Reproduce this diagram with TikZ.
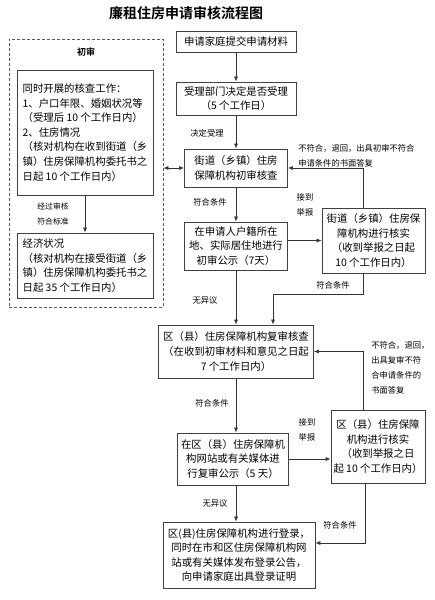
\documentclass[tikz,border=0pt]{standalone}
\usepackage{fontspec}
\setmainfont{Noto Sans CJK SC}[BoldFont={Noto Sans CJK SC Bold}]
\usepackage{tikz}
\usetikzlibrary{positioning, calc, arrows.meta}

\begin{document}
\begin{tikzpicture}[
    x=1pt, y=-1pt,
    line width=0.6pt,
    >={Latex[length=5pt,width=4pt]},
    box/.style={rectangle, draw=black!75, line width=0.8pt, align=center, inner sep=2pt, font=\fontsize{10.4}{14.6}\selectfont},
    listbox/.style={box, align=left, inner sep=5pt},
    group/.style={rectangle, draw=black!65, dash pattern=on 3pt off 2pt, line width=0.7pt},
    note/.style={font=\fontsize{8.3}{15}\selectfont, align=left, inner sep=1pt},
    flow/.style={draw=black!80, ->}
]
    \useasboundingbox (0,0) rectangle (435,600);

    % Title
    \node[font=\bfseries\fontsize{14}{16}\selectfont] (title) at (186,13) {廉租住房申请审核流程图};

    % Initial review group
    \node[group, minimum width=154, minimum height=268] (chushen) at (86,173) {};
    \node[font=\bfseries\fontsize{9}{11}\selectfont] (chushenlabel) at (86,52) {初审};
    \node[listbox, minimum width=136, minimum height=125] (hecha) at (85,132.5) {同时开展的核查工作：\\1、户口年限、婚姻状况等\\（受理后 10 个工作日内）\\2、住房情况\\（核对机构在收到街道（乡\\镇）住房保障机构委托书之\\日起 10 个工作日内）};
    \node[listbox, minimum width=136, minimum height=65] (jingji) at (85,265.5) {经济状况\\（核对机构在接受街道（乡\\镇）住房保障机构委托书之\\日起 35 个工作日内）};

    % Main steps
    \node[box, minimum width=120, minimum height=21] (shenqing) at (236,41.5) {申请家庭提交申请材料};
    \node[box, minimum width=120, minimum height=33] (shouli) at (236,98.5) {受理部门决定是否受理\\（5 个工作日）};
    \node[box, minimum width=103, minimum height=38] (jiedao) at (236,168) {街道（乡镇）住房\\保障机构初审核查};
    \node[box, minimum width=103, minimum height=48] (gongshi) at (236,246) {在申请人户籍所在\\地、实际居住地进行\\初审公示（7天）};
    \node[box, minimum width=103, minimum height=65] (jiedaohs) at (373.5,240.5) {街道（乡镇）住房保\\障机构进行核实\\（收到举报之日起\\10 个工作日内）};
    \node[box, minimum width=155, minimum height=53] (fushen) at (236,351.5) {区（县）住房保障机构复审核查\\（在收到初审材料和意见之日起\\7 个工作日内）};
    \node[box, minimum width=111, minimum height=52] (fsgongshi) at (233,459) {在区（县）住房保障机\\构网站或有关媒体进\\行复审公示（5 天）};
    \node[box, minimum width=94, minimum height=73] (quhs) at (378,446.5) {区（县）住房保障\\机构进行核实\\（收到举报之日\\起 10 个工作日内）};
    \node[box, minimum width=152, minimum height=66] (denglu) at (239,555) {区(县)住房保障机构进行登录，\\同时在市和区住房保障机构网\\站或有关媒体发布登录公告，\\向申请家庭出具登录证明};

    % Labels
    \node[note] (l1) at (207,133) {决定受理};
    \node[note] (l2) at (210,202) {符合条件};
    \node[note, align=center] (l3) at (305,204.5) {接到\\举报};
    \node[note, anchor=west] (l4) at (297,155.5) {不符合，退回，出具初审不符合\\申请条件的书面答复};
    \node[note] (l5) at (333,285) {符合条件};
    \node[note] (l6) at (205,300) {无异议};
    \node[note, anchor=west] (l7) at (370,368) {不符合，退回，\\出具复审不符\\合申请条件的\\书面答复};
    \node[note] (l8) at (212,403) {符合条件};
    \node[note, align=center] (l9) at (307,429.5) {接到\\举报};
    \node[note] (l10) at (215,503) {无异议};
    \node[note] (l11) at (340,525) {符合条件};
    \node[note, align=center, font=\fontsize{7.8}{15}\selectfont] (l12) at (53,214) {经过审核\\符合标准};

    % Connections
    \draw[flow] (shenqing) -- (shouli);
    \draw[flow] (shouli) -- (jiedao);
    \draw[flow] (jiedao) -- (gongshi);
    \draw[flow] (gongshi.east |- jiedaohs.west) -- (jiedaohs.west);
    \draw[flow] ([xshift=-10]jiedaohs.north) |- (jiedao.east);
    \draw[flow] (gongshi.south) -- (gongshi.south |- fushen.north);
    \draw[flow] ([xshift=-10]jiedaohs.south) -- ++(0,21) -| ([xshift=37]fushen.north);
    \draw[flow] (fushen.south) -- (fushen.south |- fsgongshi.north);
    \draw[flow] (fsgongshi.east) -- (fsgongshi.east -| quhs.west);
    \draw[flow] ([xshift=-15]quhs.north) |- (fushen.east);
    \draw[flow] (fushen.south |- fsgongshi.south) -- (fushen.south |- denglu.north);
    \draw[flow] ([xshift=-13]quhs.south) |- ([yshift=12]denglu.east);
    \draw[flow] (hecha) -- (jingji);
    \draw[flow, <->] (chushen.east |- jiedao.west) -- (jiedao.west);
\end{tikzpicture}
\end{document}
